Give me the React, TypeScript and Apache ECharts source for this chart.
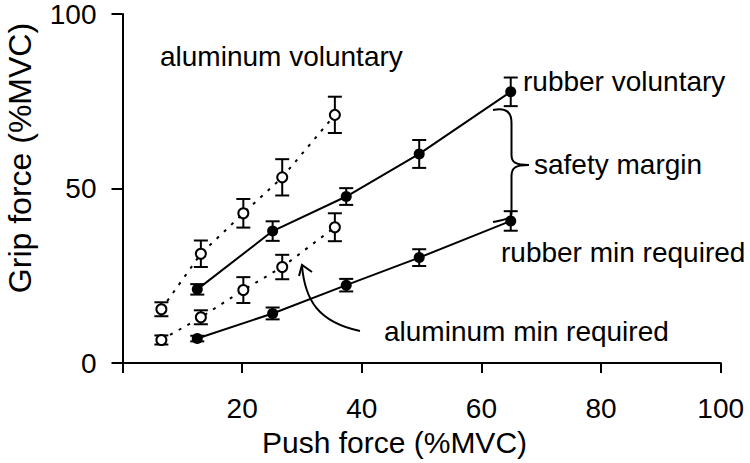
import React, { useEffect, useRef } from "react";
import * as echarts from "echarts";

// ---- data ----
const aluminumX = [6.5, 13.1, 20.2, 26.7, 35.5];
const aluminumVoluntary = [15.4, 31.3, 42.9, 53.2, 71.1];
const aluminumVoluntaryErr = [2.0, 3.8, 4.1, 5.2, 5.2];
const aluminumMin = [6.6, 13.1, 20.9, 27.5, 38.9];
const aluminumMinErr = [1.3, 2.0, 3.7, 3.5, 4.0];

const rubberX = [12.5, 25.1, 37.4, 49.6, 64.9];
const rubberVoluntary = [21.1, 37.8, 47.7, 59.9, 77.7];
const rubberVoluntaryErr = [1.5, 2.8, 2.4, 4.0, 4.1];
const rubberMin = [7.0, 14.2, 22.3, 30.2, 40.7];
const rubberMinErr = [0.8, 1.7, 1.8, 2.4, 2.8];

const xTitle = "Push force (%MVC)";
const yTitle = "Grip force (%MVC)";
const annotations = [
  { text: "aluminum voluntary", x: 160, y: 56 },
  { text: "rubber voluntary", x: 523, y: 81 },
  { text: "safety margin", x: 534, y: 164 },
  { text: "rubber min required", x: 501, y: 252 },
  { text: "aluminum min required", x: 384, y: 331 },
];

const FONT = '"Liberation Sans", Arial, sans-serif';
const INK = "#000";

function pts(xs: number[], ys: number[]) {
  return xs.map((x, i) => [x, ys[i]]);
}
function errPts(xs: number[], ys: number[], es: number[]) {
  return xs.map((x, i) => [x, ys[i], es[i]]);
}

const errorBarRender = (params: any, api: any) => {
  const x = api.value(0);
  const y = api.value(1);
  const e = api.value(2);
  const top = api.coord([x, y + e]);
  const bot = api.coord([x, y - e]);
  const hw = 7;
  const st = { stroke: INK, lineWidth: 2 };
  return {
    type: "group",
    children: [
      { type: "line", shape: { x1: top[0], y1: top[1], x2: bot[0], y2: bot[1] }, style: st },
      { type: "line", shape: { x1: top[0] - hw, y1: top[1], x2: top[0] + hw, y2: top[1] }, style: st },
      { type: "line", shape: { x1: bot[0] - hw, y1: bot[1], x2: bot[0] + hw, y2: bot[1] }, style: st },
    ],
  };
};

function lineSeries(xs: number[], ys: number[], dotted: boolean) {
  return {
    type: "line",
    data: pts(xs, ys),
    symbol: "none",
    z: 1,
    lineStyle: { color: INK, width: 2, opacity: 1, type: dotted ? [3, 7] : "solid" },
  };
}
function errSeries(xs: number[], ys: number[], es: number[]) {
  return {
    type: "custom",
    data: errPts(xs, ys, es),
    encode: { x: 0, y: 1 },
    renderItem: errorBarRender,
    z: 2,
  };
}
function markerSeries(xs: number[], ys: number[], open: boolean) {
  return {
    type: "scatter",
    data: pts(xs, ys),
    symbol: "circle",
    symbolSize: open ? 10 : 11,
    z: 3,
    itemStyle: open
      ? { color: "#fff", borderColor: INK, borderWidth: 2, opacity: 1 }
      : { color: INK, borderColor: INK, borderWidth: 0, opacity: 1 },
  };
}

export default function App() {
  const ref = useRef<HTMLDivElement>(null);
  useEffect(() => {
    if (!ref.current) return;
    const chart = echarts.init(ref.current, undefined, { renderer: "svg" });
    const textEls = annotations.map((a) => ({
      type: "text",
      x: a.x,
      y: a.y,
      z: 10,
      style: {
        text: a.text,
        font: `28px ${FONT}`,
        fill: INK,
        textAlign: "left",
        textVerticalAlign: "middle",
      },
    }));
    const stroke = { stroke: INK, lineWidth: 2, fill: "none" };
    chart.setOption({
      animation: false,
      backgroundColor: "#fff",
      grid: { left: 122.5, right: 29.3, top: 13, bottom: 100, containLabel: false },
      xAxis: {
        type: "value",
        min: 0,
        max: 100,
        interval: 20,
        splitLine: { show: false },
        axisLine: { show: true, onZero: false, lineStyle: { color: INK, width: 2 } },
        axisTick: { show: true, inside: false, length: 10, lineStyle: { color: INK, width: 2 } },
        axisLabel: {
          color: INK,
          fontSize: 28,
          fontFamily: FONT,
          margin: 31,
          formatter: (v: number) => (v === 0 ? "" : String(v)),
        },
      },
      yAxis: {
        type: "value",
        min: 0,
        max: 100,
        interval: 50,
        splitLine: { show: false },
        axisLine: { show: true, onZero: false, lineStyle: { color: INK, width: 2 } },
        axisTick: { show: true, inside: false, length: 11, lineStyle: { color: INK, width: 2 } },
        axisLabel: { color: INK, fontSize: 28, fontFamily: FONT, margin: 26 },
      },
      graphic: [
        ...textEls,
        {
          type: "text",
          x: 394.5,
          y: 442,
          style: { text: xTitle, font: `30px ${FONT}`, fill: INK, textAlign: "center", textVerticalAlign: "middle" },
        },
        {
          type: "text",
          x: 20,
          y: 158,
          rotation: Math.PI / 2,
          style: { text: yTitle, font: `32px ${FONT}`, fill: INK, textAlign: "center", textVerticalAlign: "middle" },
        },
        // curly brace (safety margin)
        { type: "bezierCurve", shape: { x1: 493, y1: 110, cpx1: 507, cpy1: 107, cpx2: 511.5, cpy2: 113, x2: 511.5, y2: 123 }, style: stroke },
        { type: "line", shape: { x1: 511.5, y1: 123, x2: 511.5, y2: 155 }, style: stroke },
        { type: "bezierCurve", shape: { x1: 511.5, y1: 155, cpx1: 511.5, cpy1: 162, cpx2: 515, cpy2: 165, x2: 529, y2: 165 }, style: stroke },
        { type: "bezierCurve", shape: { x1: 511.5, y1: 176, cpx1: 511.5, cpy1: 168, cpx2: 515, cpy2: 165, x2: 529, y2: 165 }, style: stroke },
        { type: "line", shape: { x1: 511.5, y1: 176, x2: 511.5, y2: 214 }, style: stroke },
        { type: "bezierCurve", shape: { x1: 511.5, y1: 214, cpx1: 511, cpy1: 219, cpx2: 502, cpy2: 220, x2: 493, y2: 222 }, style: stroke },
        // curved arrow (aluminum min required)
        { type: "bezierCurve", shape: { x1: 360, y1: 331, cpx1: 318, cpy1: 322, cpx2: 305, cpy2: 300, x2: 302, y2: 266 }, style: stroke },
        { type: "polyline", shape: { points: [[299, 276], [302, 265], [312, 272]] }, style: stroke },
      ],
      series: [
        lineSeries(aluminumX, aluminumVoluntary, true),
        lineSeries(aluminumX, aluminumMin, true),
        lineSeries(rubberX, rubberVoluntary, false),
        lineSeries(rubberX, rubberMin, false),
        errSeries(aluminumX, aluminumVoluntary, aluminumVoluntaryErr),
        errSeries(aluminumX, aluminumMin, aluminumMinErr),
        errSeries(rubberX, rubberVoluntary, rubberVoluntaryErr),
        errSeries(rubberX, rubberMin, rubberMinErr),
        markerSeries(aluminumX, aluminumVoluntary, true),
        markerSeries(aluminumX, aluminumMin, true),
        markerSeries(rubberX, rubberVoluntary, false),
        markerSeries(rubberX, rubberMin, false),
      ],
    });
    return () => chart.dispose();
  }, []);
  return (
    <div
      ref={ref}
      style={{ position: "fixed", left: 0, top: 0, width: 750, height: 463, background: "#fff" }}
    />
  );
}
